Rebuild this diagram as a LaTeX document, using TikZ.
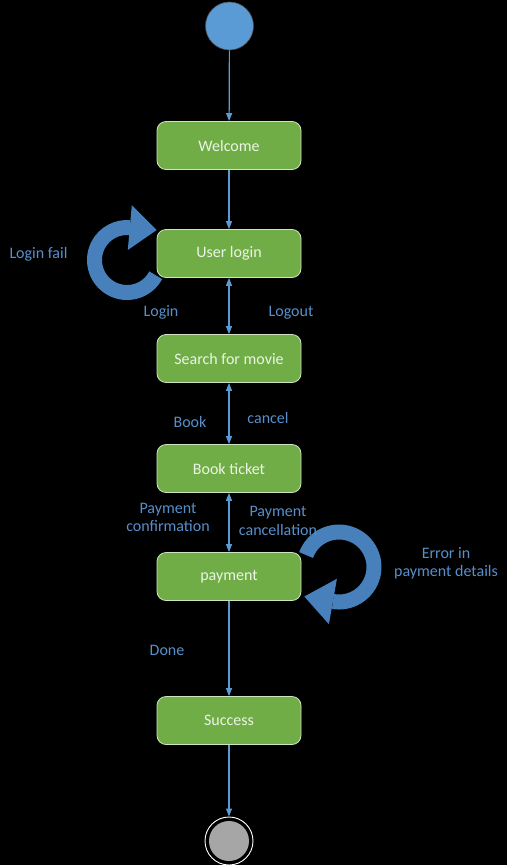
\documentclass[tikz,border=0pt]{standalone}
\usepackage{fontspec}
\setmainfont{Carlito}
\usetikzlibrary{arrows.meta}
\definecolor{boxgreen}{RGB}{112,173,71}
\definecolor{boxedge}{RGB}{205,228,190}
\definecolor{boxtext}{RGB}{235,245,228}
\definecolor{linkblue}{RGB}{91,155,213}
\definecolor{labelblue}{RGB}{88,143,203}
\definecolor{loopblue}{RGB}{72,128,188}
\definecolor{endgray}{RGB}{166,166,166}
\begin{document}
\begin{tikzpicture}[x=1pt,y=-1pt,
  state/.style={draw=boxedge, line width=0.8pt, fill=boxgreen, rounded corners=9pt,
    minimum width=144pt, minimum height=48pt, text=boxtext,
    font=\fontsize{16}{19}\selectfont, inner sep=0pt},
  conn/.style={draw=linkblue, line width=1.2pt, -{Triangle[width=6pt,length=8pt]}},
  biconn/.style={draw=linkblue, line width=1.2pt, {Triangle[width=6pt,length=8pt]}-{Triangle[width=6pt,length=8pt]}},
  lab/.style={text=labelblue, font=\fontsize{16}{18.5}\selectfont, align=center, inner sep=0pt},
  loopline/.style={draw=loopblue, line width=15pt},
  loophead/.style={fill=loopblue},
]
\useasboundingbox (0,0) rectangle (507,865);
\fill[black] (0,0) rectangle (507,865);

% start / end
\node[circle, fill=linkblue, draw=black!70, line width=0.6pt, minimum size=48pt, inner sep=0pt] (start) at (229.5,26) {};
\node[circle, draw=white, line width=0.9pt, minimum size=48pt, inner sep=0pt] (end) at (229,841) {};
\node[circle, fill=endgray, minimum size=40pt, inner sep=0pt] (endcore) at (end) {};

% states
\node[state] (welcome) at (229,145.5) {Welcome};
\node[state] (login)   at (229,253.5) {User login};
\node[state] (search)  at (229,358.5) {Search for movie};
\node[state] (book)    at (229,468.5) {Book ticket};
\node[state] (pay)     at (229,576.5) {payment};
\node[state] (success) at (229,720.5) {Success};

% connectors
\draw[conn] (start) -- (welcome);
\draw[conn] (welcome) -- (login);
\draw[biconn] (login) -- (search);
\draw[biconn] (search) -- (book);
\draw[biconn] (book) -- (pay);
\draw[conn] (pay) -- (success);
\draw[conn] (success) -- (end);

% self loops (circular arrows)
\draw[loopline] (127,260) ++(28:32.5) arc[start angle=28, end angle=275, radius=32.5];
\fill[loophead] (131.8,205.2) -- (156.7,230) -- (127.8,250) -- cycle;

\draw[loopline] (339,567) ++(-160:35) arc[start angle=-160, end angle=100, radius=35];
\fill[loophead] (328.9,624.2) -- (304.3,596.5) -- (336.9,578.8) -- cycle;

% labels
\node[lab] (lfail)   at (38.5,254.5) {Login fail};
\node[lab] (llogin)  at (161,312.5) {Login};
\node[lab] (llogout) at (291,312.5) {Logout};
\node[lab] (lbook)   at (190,421.5) {Book};
\node[lab] (lcancel) at (268,417.5) {cancel};
\node[lab] (lpconf)  at (168,517.5) {Payment\\confirmation};
\node[lab] (lpcanc)  at (278,521) {Payment\\cancellation};
\node[lab] (lerr)    at (446,563.5) {Error in\\payment details};
\node[lab] (ldone)   at (167,650.5) {Done};
\end{tikzpicture}
\end{document}
